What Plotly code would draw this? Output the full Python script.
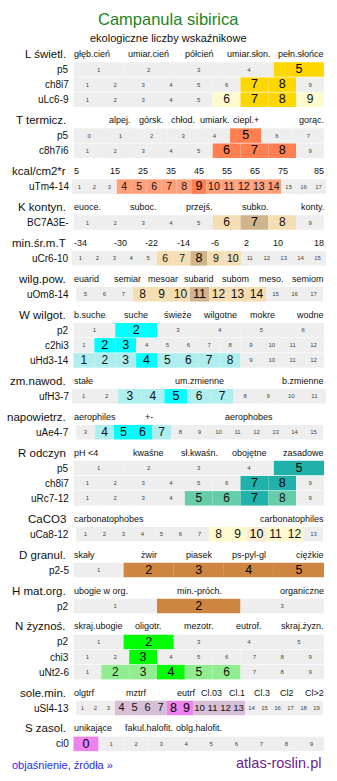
import plotly.graph_objects as go

# ---------------- data ----------------
title = "Campanula sibirica"
subtitle = "ekologiczne liczby wskaźnikowe"

section_names = ["L świetl.", "T termicz.", "kcal/cm2*r", "K kontyn.", "min.śr.m.T",
                 "wilg.pow.", "W wilgot.", "zm.nawod.", "napowietrz.", "R odczyn",
                 "CaCO3", "D granul.", "H mat.org.", "N żyznoś.", "sole.min.", "S zasol."]

# header tick labels (one per slot, "" = empty slot)
L_heads = ["głęb.cień", "umiar.cień", "półcień", "umiar.słon.", "pełn.słońce"]
T_heads = ["", "alpej.", "górsk.", "chłod.", "umiark.", "ciepl.+", "", "gorąc."]
kcal_heads = ["5", "15", "25", "35", "45", "55", "65", "75", "85"]
K_heads = ["euoce.", "", "suboc.", "", "przejś.", "", "subko.", "", "konty."]
min_heads = ["-34", "-30", "-22", "-14", "-6", "2", "10", "18"]
wilg_heads = ["euarid", "semiar", "mesoar", "subarid", "subom", "meso.", "semiom"]
W_heads = ["b.suche", "suche", "świeże", "wilgotne", "mokre", "wodne"]
zm_heads = ["stałe", "um.zmienne", "b.zmienne"]
nap_heads = ["aerophiles", "+-", "", "aerophobes", ""]
R_heads = ["pH <4", "kwaśne", "sł.kwaśn.", "obojętne", "zasadowe"]
Ca_heads = ["carbonatophobes", "carbonatophiles"]
D_heads = ["skały", "żwir", "piasek", "ps-pyl-gl", "ciężkie"]
H_heads = ["ubogie w org.", "min.-próch.", "organiczne"]
N_heads = ["skraj.ubogie", "oligotr.", "mezotr.", "eutrof.", "skraj.żyzn."]
sole_heads = ["olgtrf", "", "mztrf", "", "eutrf", "Cl.03", "Cl.1", "Cl.3", "Cl2", "Cl>2"]
S_heads = ["unikające", "fakul.halofit.", "oblg.halofit.", "", ""]

# rows: (label, first value, last value, strong values, light values)
L_rows = [("p5", 1, 5, [5], []), ("ch8i7", 1, 9, [7, 8], []), ("uLc6-9", 1, 9, [7, 8], [6, 9])]
T_rows = [("p5", 0, 7, [5], []), ("c8h7i6", 1, 9, [6, 7, 8], [])]
kcal_rows = [("uTm4-14", 1, 17, [9], [4, 5, 6, 7, 8, 10, 11, 12, 13, 14])]
K_rows = [("BC7A3E-", 1, 9, [7], [6, 8])]
min_rows = [("uCr6-10", 1, 15, [8], [6, 7, 9, 10])]
wilg_rows = [("uOm8-14", 5, 17, [11], [8, 9, 10, 12, 13, 14])]
W_rows = [("p2", 1, 6, [2], []), ("c2hi3", 1, 12, [2, 3], []),
          ("uHd3-14", 1, 12, [4], [1, 2, 3, 5, 6, 7, 8])]
zm_rows = [("ufH3-7", 1, 11, [5], [3, 4, 6, 7])]
nap_rows = [("uAe4-7", 3, 15, [5, 6], [4, 7])]
R_rows = [("p5", 1, 5, [5], []), ("ch8i7", 1, 9, [7, 8], []), ("uRc7-12", 1, 9, [7], [5, 6, 8])]
Ca_rows = [("uCa8-12", 1, 13, [10], [8, 9, 11, 12])]
D_rows = [("p2-5", 1, 5, [2, 3, 4, 5], [])]
H_rows = [("p2", 1, 3, [2], [])]
N_rows = [("p2", 1, 5, [2], []), ("chi3", 1, 9, [3], []), ("uNt2-6", 1, 9, [4], [2, 3, 5, 6])]
sole_rows = [("uSl4-13", 1, 19, [8, 9], [4, 5, 6, 7, 10, 11, 12, 13])]
S_rows = [("ci0", 0, 9, [0], [])]

footer_left = "objaśnienie, źródła »"
footer_right = "atlas-roslin.pl"

# ---------------- style ----------------
FONT = "Liberation Sans, Arial, Helvetica, sans-serif"
GREY = "#eeeeee"
section_heads = [L_heads, T_heads, kcal_heads, K_heads, min_heads, wilg_heads, W_heads, zm_heads,
                 nap_heads, R_heads, Ca_heads, D_heads, H_heads, N_heads, sole_heads, S_heads]
section_rows = [L_rows, T_rows, kcal_rows, K_rows, min_rows, wilg_rows, W_rows, zm_rows,
                nap_rows, R_rows, Ca_rows, D_rows, H_rows, N_rows, sole_rows, S_rows]
section_colors = [("#ffd700", "#fffacd"), ("#ff7f50", "#ffa07a"), ("#ff7f50", "#ffa07a"),
                  ("#d2b48c", "#f5deb3"), ("#d2b48c", "#f5deb3"), ("#d2b48c", "#f5deb3"),
                  ("#00ffff", "#afeeee"), ("#00ffff", "#afeeee"), ("#00ffff", "#afeeee"),
                  ("#20b2aa", "#66cdaa"), ("#fdebd5", "#fffacd"), ("#cd853f", "#cd853f"),
                  ("#cd853f", "#cd853f"), ("#00ff00", "#90ee90"), ("#ee82ee", "#d8bfd8"),
                  ("#ee82ee", "#d8bfd8")]
ROW_SPAN = {"uTm4-14": (72, 326), "uCr6-10": (72, 326), "ufH3-7": (72, 326),
            "uOm8-14": (76, 323), "uAe4-7": (76, 323), "uCa8-12": (76, 323), "uSl4-13": (76, 323)}
STD_SPAN = (73.5, 324)
HEAD_SPAN = (73, 325)
HEAD_TO_ROW, ROW_PITCH, ROW_TO_HEAD = 15.5, 15.1, 20.4
BAR_H = 14.5

bx, bbase, by, bcol, bw = [], [], [], [], []
tx, ty, tt, tsize, tcol = [], [], [], [], []
annotations = []


def ann(x, y, text, size, anchor, color="#111111"):
    annotations.append(dict(x=x, y=y, xref="x", yref="y", text=text, showarrow=False,
                            xanchor=anchor, yanchor="middle",
                            font=dict(family=FONT, size=size, color=color)))


ann(168, 19, title, 16.5, "center", "#1e851e")
ann(168, 38, subtitle, 11, "center", "#111111")

y = 54.0
for name, heads, rows, (c_strong, c_light) in zip(section_names, section_heads, section_rows, section_colors):
    ann(67.5, y, name, 11.5, "right")
    n = len(heads)
    sw = (HEAD_SPAN[1] - HEAD_SPAN[0]) / n
    for i, h in enumerate(heads):
        if not h:
            continue
        if i == 0:
            ann(HEAD_SPAN[0] - 1, y, h, 9, "left")
        elif i == n - 1:
            ann(HEAD_SPAN[1] + 1, y, h, 9, "right")
        else:
            ann(HEAD_SPAN[0] + (i + 0.5) * sw, y, h, 9, "center")
    y += HEAD_TO_ROW
    for ri, (label, lo, hi, strong, light) in enumerate(rows):
        if ri:
            y += ROW_PITCH
        ann(71, y, label, 10, "right")
        x0, x1 = ROW_SPAN.get(label, STD_SPAN)
        vals = list(range(lo, hi + 1))
        cw = (x1 - x0) / len(vals)
        for k, v in enumerate(vals):
            start = x0 + k * cw
            if v in strong:
                col = c_strong
            elif v in light:
                col = c_light
            else:
                col = GREY
            bx.append(cw)
            bbase.append(start)
            by.append(y)
            bcol.append(col)
            bw.append(BAR_H)
            tx.append(start + cw / 2)
            ty.append(y + 0.5)
            tt.append(str(v))
            if v in strong:
                tsize.append(12.5 if cw >= 17 or v < 10 else 11.5)
                tcol.append("#000000")
            elif v in light:
                if cw >= 17:
                    tsize.append(12)
                elif v < 10:
                    tsize.append(11 if cw < 14 else 10.5)
                else:
                    tsize.append(min(10.5, cw * 0.74))
                tcol.append("#111111")
            else:
                tsize.append(6)
                tcol.append("#444444")
    y += ROW_TO_HEAD

ann(10, 765, footer_left, 11, "left", "#2a2aee")
ann(323, 763, footer_right, 14.5, "right", "#6a1e8f")

fig = go.Figure()
fig.add_trace(go.Bar(orientation="h", x=bx, base=bbase, y=by, width=bw,
                     marker=dict(color=bcol, line=dict(width=0)), hoverinfo="skip",
                     showlegend=False))
fig.add_trace(go.Scatter(x=tx, y=ty, text=tt, mode="text", textposition="middle center",
                         textfont=dict(family=FONT, size=tsize, color=tcol),
                         hoverinfo="skip", showlegend=False))
fig.update_layout(width=337, height=781, margin=dict(l=0, r=0, t=0, b=0),
                  paper_bgcolor="white", plot_bgcolor="white", barmode="overlay",
                  annotations=annotations,
                  xaxis=dict(range=[0, 337], visible=False, fixedrange=True),
                  yaxis=dict(range=[781, 0], visible=False, fixedrange=True))
fig.write_html("out.html", include_plotlyjs=True, config={"displayModeBar": False})
